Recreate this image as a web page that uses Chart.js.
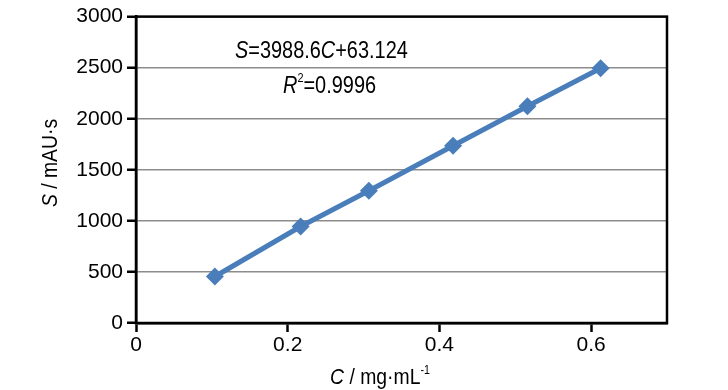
<!DOCTYPE html>
<html lang="zh">
<head>
    <meta charset="UTF-8">
    <title>S - C calibration</title>
    <script src="https://cdn.jsdelivr.net/npm/chart.js"></script>
    <style>
        body { margin: 0; background: #fff; }
        #wrap { width: 728px; height: 390px; }
    </style>
</head>
<body>
    <div id="wrap"><canvas id="chart"></canvas></div>

    <script>
        // data
        const concentrations = [0.104, 0.217, 0.307, 0.418, 0.516, 0.6125];
        const peakAreas = [455, 945, 1294, 1736, 2123, 2494];
        const xTicks = [0, 0.2, 0.4, 0.6];
        const yTicks = [0, 500, 1000, 1500, 2000, 2500, 3000];

        const FONT = '"Liberation Sans", Arial, sans-serif';

        // draw a run of text pieces (italic / superscript), squeezed horizontally by sx
        function drawRich(ctx, parts, x, y, size, align, sx) {
            const widthOf = p => {
                ctx.font = (p.i ? 'italic ' : '') + (p.sup ? size * 0.55 : size) + 'px ' + FONT;
                return ctx.measureText(p.t).width;
            };
            const total = parts.reduce((s, p) => s + widthOf(p), 0);
            ctx.save();
            ctx.translate(x, y);
            ctx.scale(sx, 1);
            let cx = align === 'center' ? -total / 2 : 0;
            ctx.textAlign = 'left';
            ctx.textBaseline = 'alphabetic';
            parts.forEach(p => {
                const w = widthOf(p);
                ctx.fillText(p.t, cx, p.sup ? -size * 0.45 : 0);
                cx += w;
            });
            ctx.restore();
        }

        const extras = {
            id: 'extras',
            afterDraw(chart) {
                const ctx = chart.ctx;
                const a = chart.chartArea;
                ctx.save();
                // box around plot
                ctx.strokeStyle = '#000';
                ctx.lineWidth = 2.5;
                ctx.strokeRect(a.left, a.top, a.right - a.left, a.bottom - a.top);

                ctx.fillStyle = '#000';
                // regression text
                drawRich(ctx, [{t: 'S', i: true}, {t: '=3988.6'}, {t: 'C', i: true}, {t: '+63.124'}], 235, 58, 24, 'left', 0.83);
                drawRich(ctx, [{t: 'R', i: true}, {t: '2', sup: true}, {t: '=0.9996'}], 283, 93, 24, 'left', 0.83);

                // x title
                drawRich(ctx, [{t: 'C', i: true}, {t: ' / mg·mL'}, {t: '-1', sup: true}], 380, 384, 22, 'center', 0.88);

                // y title
                ctx.translate(57, 163);
                ctx.rotate(-Math.PI / 2);
                drawRich(ctx, [{t: 'S', i: true}, {t: ' / mAU·s'}], 0, 0, 22, 'center', 0.88);
                ctx.restore();
            }
        };

        new Chart(document.getElementById('chart'), {
            type: 'scatter',
            data: {
                datasets: [{
                    data: concentrations.map((c, i) => ({x: c, y: peakAreas[i]})),
                    showLine: true,
                    borderColor: '#4a7ebb',
                    backgroundColor: '#4a7ebb',
                    borderWidth: 5,
                    pointStyle: 'rectRot',
                    pointRadius: 9,
                    pointHoverRadius: 9,
                    pointBorderWidth: 0
                }]
            },
            options: {
                responsive: true,
                maintainAspectRatio: false,
                animation: false,
                layout: { padding: { top: 13, right: 61, left: 0, bottom: 0 } },
                plugins: { legend: { display: false }, tooltip: { enabled: false } },
                scales: {
                    x: {
                        type: 'linear',
                        min: 0,
                        max: 0.7,
                        afterBuildTicks: s => { s.ticks = xTicks.map(v => ({value: v})); },
                        afterFit: s => { s.height = 67; },
                        grid: {
                            drawOnChartArea: false,
                            drawTicks: true,
                            tickLength: 9,
                            tickColor: '#000',
                            tickWidth: 2.5
                        },
                        border: { display: true, color: '#000', width: 2.5 },
                        ticks: {
                            color: '#000',
                            padding: 1,
                            maxRotation: 0,
                            font: { family: FONT, size: 21 },
                            callback: v => v === 0 ? '0' : v.toFixed(1)
                        }
                    },
                    y: {
                        min: 0,
                        max: 3000,
                        afterBuildTicks: s => { s.ticks = yTicks.map(v => ({value: v})); },
                        afterFit: s => { s.width = 136; },
                        grid: {
                            color: '#8c8c8c',
                            lineWidth: 1.5,
                            drawTicks: true,
                            tickLength: 9,
                            tickColor: '#000',
                            tickWidth: 2.5
                        },
                        border: { display: true, color: '#000', width: 2.5 },
                        ticks: {
                            color: '#000',
                            padding: 4,
                            font: { family: FONT, size: 21 },
                            callback: v => String(v)
                        }
                    }
                }
            },
            plugins: [extras]
        });
    </script>
</body>
</html>
